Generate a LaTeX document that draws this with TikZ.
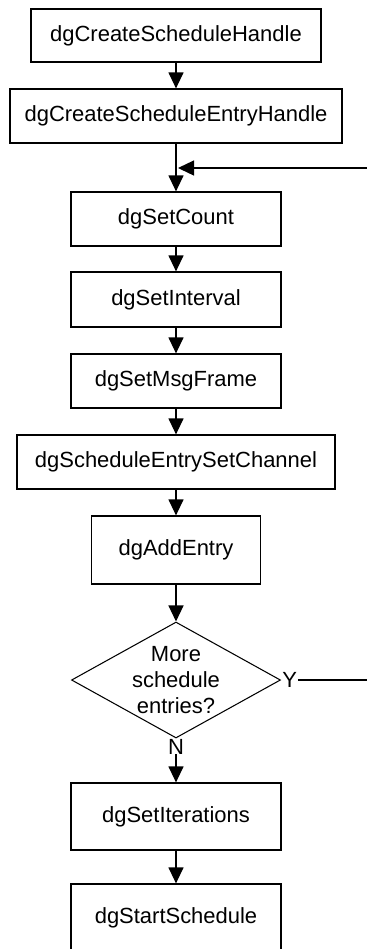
\documentclass[tikz,border=0pt]{standalone}
\usepackage{fontspec}
\setmainfont{Liberation Sans}
\usepackage{tikz}
\usetikzlibrary{arrows.meta,shapes.geometric,positioning,calc}

\tikzset{
  stepbox/.style={draw, rectangle, line width=0.7pt, inner sep=0pt,
    minimum height=1.08cm, font=\fontsize{12.5}{15}\selectfont},
  decision/.style={draw, diamond, line width=0.6pt, inner sep=0pt,
    minimum width=4.18cm, minimum height=2.32cm},
  flow/.style={line width=0.7pt, -{Triangle[length=0.32cm,width=0.3cm]}},
  yesno/.style={inner sep=0.5pt, font=\fontsize{12.5}{15}\selectfont}
}

\begin{document}
\begin{tikzpicture}
\useasboundingbox (0,0) rectangle (7.34,-18.98);
\clip (0,0) rectangle (7.34,-18.98);
% main column of calls
\node[stepbox, minimum width=5.8cm, minimum height=1.06cm] (schedh) at (3.52,-0.71) {dgCreateScheduleHandle};
\node[stepbox, minimum width=6.64cm] (entryh) at (3.52,-2.32) {dgCreateScheduleEntryHandle};
\node[stepbox, minimum width=4.2cm] (count) at (3.52,-4.38) {dgSetCount};
\node[stepbox, minimum width=4.2cm, minimum height=1.1cm] (interval) at (3.52,-5.99) {dgSetInterval};
\node[stepbox, minimum width=4.2cm] (msgframe) at (3.52,-7.62) {dgSetMsgFrame};
\node[stepbox, minimum width=6.36cm] (channel) at (3.52,-9.24) {dgScheduleEntrySetChannel};
\node[stepbox, minimum width=3.38cm, minimum height=1.36cm] (addentry) at (3.52,-11.0) {dgAddEntry};
\node[decision, label={[align=center, font=\fontsize{12.5}{14.6}\selectfont]center:More\\schedule\\entries?}] (more) at (3.52,-13.6) {};
\node[yesno, anchor=west] (yes) at (more.east) {Y};
\node[yesno, anchor=north, inner sep=0pt] (no) at (more.south) {N};
\node[stepbox, minimum width=4.2cm, minimum height=1.34cm] (iter) at (3.52,-16.33) {dgSetIterations};
\node[stepbox, minimum width=4.2cm, minimum height=1.36cm] (start) at (3.52,-18.36) {dgStartSchedule};

% loop ends leave the picture on the right
\coordinate (loopout) at (7.34,-13.6);
\coordinate (loopin) at (7.34,-3.36);

\draw[flow] (schedh) -- (entryh);
\draw[flow] (entryh) -- (count);
\draw[flow] (loopin) -- ([xshift=0.04cm]loopin -| entryh.south);
\draw[flow] (count) -- (interval);
\draw[flow] (interval) -- (msgframe);
\draw[flow] (msgframe) -- (channel);
\draw[flow] (channel) -- (addentry);
\draw[flow] (addentry) -- (more);
\draw[line width=0.7pt] (yes) -- (loopout);
\draw[flow] (no) -- (iter);
\draw[flow] (iter) -- (start);
\end{tikzpicture}
\end{document}
